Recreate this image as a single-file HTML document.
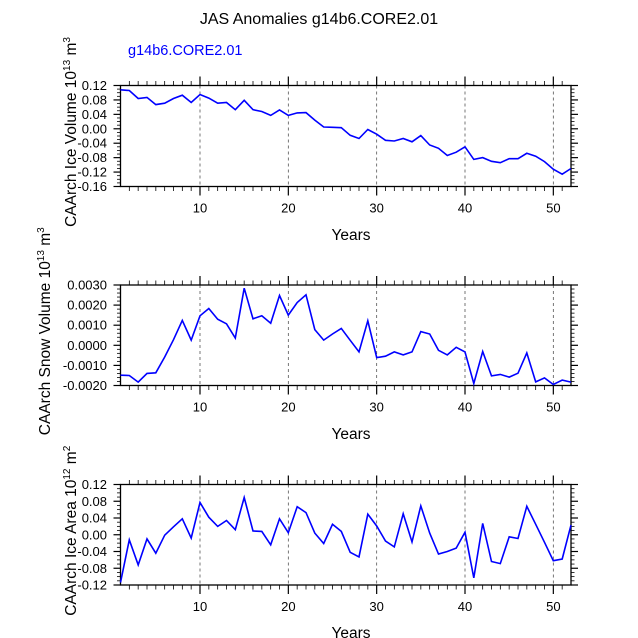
<!DOCTYPE html>
<html><head><meta charset="utf-8">
<style>
html,body{margin:0;padding:0;background:#fff;}
svg{display:block;font-family:"Liberation Sans",Arial,sans-serif;}
</style></head>
<body>
<svg id="chart" width="638" height="638" viewBox="0 0 638 638">
<text x="319" y="24" font-size="16" text-anchor="middle">JAS Anomalies g14b6.CORE2.01</text>
<text x="128" y="55" font-size="14.5" fill="#0000ff">g14b6.CORE2.01</text>
</svg>
<script>
const years = Array.from({length:52},(_,i)=>i+1);
const iceVolume = [0.108,0.106,0.084,0.087,0.067,0.071,0.084,0.093,0.073,0.095,0.085,0.071,0.073,0.053,0.079,0.053,0.048,0.037,0.052,0.037,0.044,0.045,0.024,0.005,0.004,0.003,-0.018,-0.027,-0.002,-0.015,-0.032,-0.034,-0.027,-0.036,-0.019,-0.045,-0.054,-0.074,-0.065,-0.050,-0.085,-0.080,-0.090,-0.094,-0.083,-0.083,-0.068,-0.076,-0.091,-0.112,-0.126,-0.110];
const snowVolume = [-0.00149,-0.0015,-0.00183,-0.0014,-0.00137,-0.00058,0.00028,0.00124,0.00026,0.00147,0.00183,0.0013,0.00107,0.00036,0.00284,0.00132,0.00147,0.0011,0.00248,0.0015,0.00213,0.00251,0.00078,0.00026,0.00056,0.00084,0.00025,-0.00033,0.00122,-0.00061,-0.00054,-0.00033,-0.00048,-0.00033,0.00068,0.00056,-0.00025,-0.00048,-0.0001,-0.00033,-0.0019,-0.00031,-0.00152,-0.00145,-0.00158,-0.00139,-0.00038,-0.00182,-0.00162,-0.00195,-0.00173,-0.00183];
const iceArea = [-0.114,-0.012,-0.072,-0.010,-0.044,-0.001,0.019,0.038,-0.008,0.077,0.042,0.020,0.034,0.012,0.089,0.009,0.008,-0.024,0.038,0.005,0.067,0.053,0.004,-0.021,0.025,0.008,-0.042,-0.053,0.049,0.021,-0.015,-0.029,0.050,-0.017,0.069,0.004,-0.046,-0.040,-0.032,0.006,-0.103,0.027,-0.064,-0.069,-0.005,-0.009,0.068,0.025,-0.018,-0.062,-0.058,0.023];
const xTicks = [10,20,30,40,50];
const volTicks = ["0.12","0.08","0.04","0.00","-0.04","-0.08","-0.12","-0.16"];
const snowTicks = ["0.0030","0.0020","0.0010","0.0000","-0.0010","-0.0020"];
const areaTicks = ["0.12","0.08","0.04","0.00","-0.04","-0.08","-0.12"];

const NS="http://www.w3.org/2000/svg";
const svg=document.getElementById('chart');
function mk(tag,attrs,parent){const e=document.createElementNS(NS,tag);for(const k in attrs)e.setAttribute(k,attrs[k]);(parent||svg).appendChild(e);return e;}
const L=120.5,R=571;
const xMin=1,xMax=52;
function xs(v){return L+(v-xMin)/(xMax-xMin)*(R-L);}

function panel(name,top,bot,data,ticks,yMax,yMin,titleMain,unitExp,unitSym,xlabY,titleX,minorN){
  const g=mk('g',{});
  
  
  const ys=v=>top+(yMax-v)/(yMax-yMin)*(bot-top);
  xTicks.forEach(t=>{const l=mk('line',{x1:xs(t),x2:xs(t),y1:top,y2:bot,stroke:'#555','stroke-width':0.8,'stroke-dasharray':'3,3'},g);
    
    });
  years.forEach(y=>{if(y<=xMin||y>=xMax)return;const major=xTicks.includes(y);const len=major?9:4.5;
    mk('line',{x1:xs(y),x2:xs(y),y1:top,y2:top-len,stroke:'#000','stroke-width':major?1.2:0.8},g);
    mk('line',{x1:xs(y),x2:xs(y),y1:bot,y2:bot+len,stroke:'#000','stroke-width':major?1.2:0.8},g);});
  const n=ticks.length-1;
  for(let i=0;i<=n*minorN;i++){const y=top+i/(n*minorN)*(bot-top);const major=i%minorN===0;const len=major?7:3.5;
    mk('line',{x1:L,x2:L-len,y1:y,y2:y,stroke:'#000','stroke-width':major?1.2:0.8},g);
    mk('line',{x1:R,x2:R+len,y1:y,y2:y,stroke:'#000','stroke-width':major?1.2:0.8},g);}
  ticks.forEach((t,i)=>{const v=yMax-i*(yMax-yMin)/n;const tx=mk('text',{x:107,y:ys(v)+4.5,'font-size':13,'text-anchor':'end'},g);tx.textContent=t;
    
    });
  xTicks.forEach(t=>{const tx=mk('text',{x:xs(t),y:bot+26,'font-size':13,'text-anchor':'middle'},g);tx.textContent=t;
    
    });
  const fr=mk('rect',{x:L,y:top,width:R-L,height:bot-top,fill:'none',stroke:'#000','stroke-width':1.3},g);
  
  
  const pts=data.map((v,i)=>xs(years[i]).toFixed(1)+','+ys(v).toFixed(1)).join(' ');
  const pl=mk('polyline',{points:pts,fill:'none',stroke:'#0000ff','stroke-width':1.6},g);
  
  
  const xl=mk('text',{x:351,y:xlabY,'font-size':15.5,'text-anchor':'middle'},g);xl.textContent='Years';
  
  
  const cy=(top+bot)/2-4;
  const yt=mk('text',{x:0,y:0,'font-size':15.5,'text-anchor':'middle',transform:`translate(${titleX},${cy}) rotate(-90)`},g);
  
  
  const a=mk('tspan',{},yt);a.textContent=titleMain+' 10';
  const b=mk('tspan',{dy:-6,'font-size':10},yt);b.textContent=unitExp;
  const c=mk('tspan',{dy:6},yt);c.textContent=' m';
  const d=mk('tspan',{dy:-6,'font-size':10},yt);d.textContent=unitSym;
}
panel('ice-volume',85.5,186.5,iceVolume,volTicks,0.12,-0.16,'CAArch Ice Volume','13','3',240,76,4);
panel('snow-volume',285,385.5,snowVolume,snowTicks,0.0030,-0.0020,'CAArch Snow Volume','13','3',439,50,5);
panel('ice-area',484.5,585,iceArea,areaTicks,0.12,-0.12,'CAArch Ice Area','12','2',638,76,4);
</script>
</body></html>
